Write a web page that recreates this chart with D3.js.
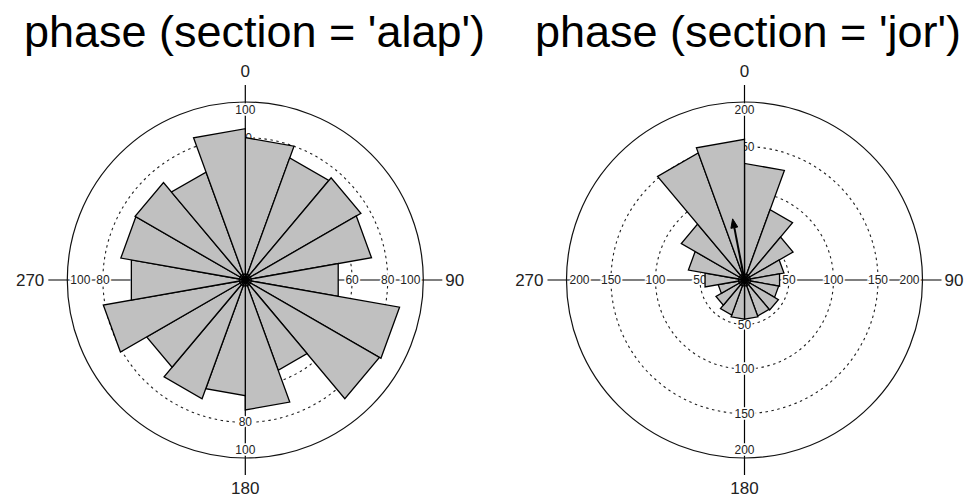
<!DOCTYPE html>
<html>
<head>
<meta charset="utf-8">
<script src="https://cdn.jsdelivr.net/npm/d3@7"></script>
<style>
  html, body { margin: 0; padding: 0; background: #fff; }
  svg { display: block; font-family: "Liberation Sans", Arial, sans-serif; }
</style>
</head>
<body>
<svg id="chart" width="977" height="499"></svg>
<script>
// ---- data ----
const titles = ["phase (section = 'alap')", "phase (section = 'jor')"];
const binStarts = [0, 20, 40, 60, 80, 100, 120, 140, 160, 180, 200, 220, 240, 260, 280, 300, 320, 340];
const binWidth = 20;
const alapCounts = [80, 73, 75, 72, 53, 88, 87, 54, 73, 65, 71, 64, 81, 65, 71, 71.5, 64.5, 85];
const jorCounts  = [131, 84, 63, 45, 40, 39, 44, 43, 44, 44, 42, 37, 30, 45, 64, 82, 152, 158];
const alapTicks = [60, 80, 100];
const jorTicks  = [50, 100, 150, 200];
const alapMean = [0, 2];      // [direction deg, length]
const jorMean  = [349, 70];
const angleLabels = ["0", "90", "180", "270"];

// ---- layout ----
const svg = d3.select("#chart");
const R = 178;
const panels = [
  { cx: 245.3, cy: 280, title: titles[0], tx: 254.5, counts: alapCounts, ticks: alapTicks, mean: alapMean, dot: true },
  { cx: 744.5, cy: 280, title: titles[1], tx: 748,   counts: jorCounts,  ticks: jorTicks,  mean: jorMean,  dot: false }
];
const rad = d => d * Math.PI / 180;

panels.forEach(p => {
  svg.append("text")
    .attr("x", p.tx).attr("y", 47)
    .attr("text-anchor", "middle")
    .attr("font-size", 45)
    .attr("fill", "#000")
    .text(p.title);

  const maxV = p.ticks[p.ticks.length - 1];
  const r = d3.scaleLinear().domain([0, maxV]).range([0, R]);
  const g = svg.append("g").attr("transform", `translate(${p.cx},${p.cy})`);

  // axis lines
  g.append("line").attr("x1", -197).attr("x2", 197).attr("y1", 0).attr("y2", 0)
    .attr("stroke", "#000").attr("stroke-width", 1.2);
  g.append("line").attr("y1", -195).attr("y2", 195).attr("x1", 0).attr("x2", 0)
    .attr("stroke", "#000").attr("stroke-width", 1.2);

  // rings
  p.ticks.forEach((t, i) => {
    const last = i === p.ticks.length - 1;
    g.append("circle").attr("r", r(t))
      .attr("fill", "none")
      .attr("stroke", last ? "#111" : "#222")
      .attr("stroke-width", last ? 1.2 : 1.1)
      .attr("stroke-dasharray", last ? null : "2.5,3.5");
  });

  // angle labels
  const alab = [
    { t: angleLabels[0], x: 0, y: -203, a: "middle" },
    { t: angleLabels[1], x: 200, y: 6, a: "start" },
    { t: angleLabels[2], x: 0, y: 214, a: "middle" },
    { t: angleLabels[3], x: -201, y: 6, a: "end" }
  ];
  alab.forEach(l => {
    g.append("text").attr("x", l.x).attr("y", l.y)
      .attr("text-anchor", l.a).attr("font-size", 17).attr("fill", "#222").text(l.t);
  });

  // radial tick labels (drawn under the bars)
  p.ticks.forEach((t, i) => {
    const last = i === p.ticks.length - 1;
    const rv = r(t);
    const rh = last ? rv - 13 : rv;
    const rvv = last ? rv - 8 : rv;
    const pos = [[rh, 0], [-rh, 0], [0, -rvv], [0, rvv]];
    pos.forEach(([x, y]) => {
      g.append("text").attr("x", x).attr("y", y + 4)
        .attr("text-anchor", "middle").attr("font-size", 12)
        .attr("fill", "#222")
        .attr("stroke", "#fff").attr("stroke-width", 3.5)
        .attr("paint-order", "stroke")
        .text(t);
    });
  });

  // bars (triangles)
  const line = d3.lineRadial().curve(d3.curveLinearClosed);
  g.selectAll("path.bar").data(binStarts.map((b, i) => ({ b, v: p.counts[i] })))
    .enter().append("path").attr("class", "bar")
    .attr("d", d => line([[0, 0], [rad(d.b), r(d.v)], [rad(d.b + binWidth), r(d.v)]]))
    .attr("fill", "#c0c0c0")
    .attr("stroke", "#000")
    .attr("stroke-width", 1.3)
    .attr("stroke-linejoin", "miter");

  // centre marker
  g.append("circle").attr("r", 6).attr("fill", "none").attr("stroke", "#000").attr("stroke-width", 1.3);
  if (p.dot) g.append("circle").attr("r", 3.2).attr("fill", "#000");

  // mean vector arrow
  const ma = rad(p.mean[0]), ml = r(p.mean[1]);
  if (ml > 10) {
    const tx = Math.sin(ma) * ml, ty = -Math.cos(ma) * ml;
    const hl = 9, hw = 3.5;
    const bx = Math.sin(ma) * (ml - hl), by = -Math.cos(ma) * (ml - hl);
    const px = Math.cos(ma) * hw, py = Math.sin(ma) * hw;
    g.append("line").attr("x1", 0).attr("y1", 0).attr("x2", bx).attr("y2", by)
      .attr("stroke", "#000").attr("stroke-width", 2);
    g.append("path")
      .attr("d", `M${tx},${ty}L${bx + px},${by + py}L${bx - px},${by - py}Z`)
      .attr("fill", "#000").attr("stroke", "#000").attr("stroke-width", 1);
  }
});
</script>
</body>
</html>
